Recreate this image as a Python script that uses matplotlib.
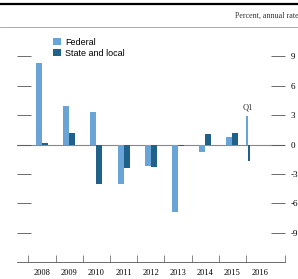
import matplotlib.pyplot as plt
import matplotlib.lines as mlines
import numpy as np

# data (percent, annual rate)
years = ['2008', '2009', '2010', '2011', '2012', '2013', '2014', '2015', '2016']
federal = [8.3, 3.9, 3.3, -4.0, -2.2, -6.9, -0.8, 0.8]
state_local = [0.2, 1.2, -4.0, -2.4, -2.3, -0.1, 1.1, 1.2]
q1_federal = 2.9
q1_state_local = -1.7
yticks = [-9, -6, -3, 0, 3, 6, 9]

c_fed = '#6aa3d5'
c_sl = '#1f6189'

fig = plt.figure(figsize=(2.98, 2.79), dpi=100)
fig.patch.set_facecolor('white')

# header rules
fig.add_artist(mlines.Line2D([0, 1], [0.985, 0.985], color='black', linewidth=1.6))
fig.add_artist(mlines.Line2D([0, 1], [0.903, 0.903], color='#888888', linewidth=0.5))
fig.text(0.79, 0.945, 'Percent, annual rate', fontsize=5.8, family='Liberation Serif',
         color='#333333', va='center', ha='left')

ax = fig.add_axes([0.057, 0.061, 0.899, 0.842])
x = np.arange(len(federal))
w = 0.22
ax.bar(x - w / 2, federal, w, color=c_fed, label='Federal')
ax.bar(x + w / 2, state_local, w, color=c_sl, label='State and local')
# 2016 Q1 (single quarter, drawn thin)
xq = 7.57
ax.bar(xq - 0.03, q1_federal, 0.06, color=c_fed)
ax.bar(xq + 0.03, q1_state_local, 0.06, color=c_sl)
ax.text(xq, 3.4, 'Q1', fontsize=6, family='Liberation Serif', ha='center', va='bottom',
        color='#333333')

ax.axhline(0, color='#888888', linewidth=0.8, zorder=0)
ax.set_xlim(-0.92, 8.93)
ax.set_ylim(-12, 12)

for s in ['top', 'left', 'right']:
    ax.spines[s].set_visible(False)
ax.spines['bottom'].set_color('#555555')
ax.spines['bottom'].set_linewidth(0.6)

ax.set_xticks(list(np.arange(-0.5, 8, 1.0)) + [8.93])
ax.set_xticklabels([])
ax.set_xticks(np.arange(len(years)), minor=True)
ax.set_xticklabels(years, minor=True, fontsize=6, family='Liberation Serif')
ax.tick_params(axis='x', which='major', direction='in', length=5, width=0.5, color='#555555')
ax.tick_params(axis='x', which='minor', length=0, pad=5)

ax.set_yticks(yticks)
ax.set_yticklabels([str(v) for v in yticks], fontsize=6.5, family='Liberation Serif')
ax.tick_params(axis='y', direction='in', length=10, width=0.6, color='#555555',
               left=True, right=True, labelleft=False, labelright=True, pad=4)

leg = ax.legend(loc='upper left', bbox_to_anchor=(0.105, 0.99), frameon=False,
                handlelength=0.9, handleheight=0.9, handletextpad=0.4,
                labelspacing=0.25, prop={'family': 'Liberation Sans', 'size': 6.5})

fig.savefig('out.png', dpi=100, facecolor='white')
